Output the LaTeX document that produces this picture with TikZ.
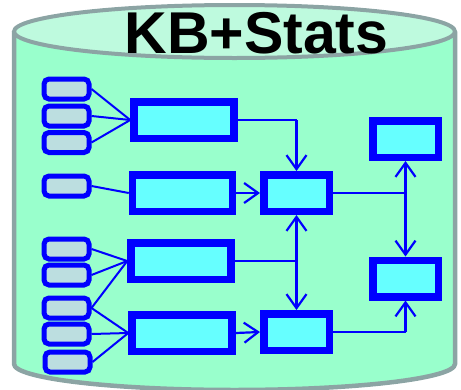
\documentclass[tikz,border=0pt]{standalone}
\usepackage{fontspec}
\setmainfont{Liberation Sans}
\usetikzlibrary{arrows.meta}
\definecolor{cylline}{RGB}{140,164,164}
\definecolor{cyltop}{RGB}{190,250,222}
\definecolor{cylbody}{RGB}{153,255,204}
\definecolor{boxblue}{RGB}{0,0,255}
\definecolor{boxcyan}{RGB}{102,255,255}
\definecolor{keygray}{RGB}{188,222,224}
\tikzset{
  keybox/.style={draw=boxblue, fill=keygray, line width=5pt, rounded corners=5pt,
    minimum width=45pt, minimum height=20pt, inner sep=0pt},
  widebox/.style={draw=boxblue, fill=boxcyan, line width=7.5pt,
    minimum width=100pt, minimum height=36.5pt, inner sep=0pt},
  smallbox/.style={draw=boxblue, fill=boxcyan, line width=7.5pt,
    minimum width=65.5pt, minimum height=36.5pt, inner sep=0pt},
  feed/.style={draw=boxblue, line width=2pt},
  flow/.style={draw=boxblue, line width=2.2pt},
  flowarrow/.style={flow, -{Straight Barb[length=14pt,width=20pt,line width=2.2pt]}},
}
\begin{document}
\begin{tikzpicture}[x=1pt,y=-1pt]
\useasboundingbox (0,0) rectangle (461,389);
% cylinder body and lids
\fill[cylbody] (14,31.5) -- (14,364) arc[start angle=180, end angle=360, x radius=220.5pt, y radius=26pt] -- (455,31.5) -- cycle;
\draw[cylline, line width=4.5pt] (14,31.5) -- (14,364) arc[start angle=180, end angle=360, x radius=220.5pt, y radius=26pt] -- (455,31.5);
\draw[cylline, fill=cyltop, line width=4pt] (234.5,31.5) ellipse[x radius=220.5pt, y radius=26.5pt];
\node[anchor=base, inner sep=0pt, font=\fontsize{59}{59}\selectfont\bfseries] (title) at (256.5,53) {KB+Stats};

% input keys
\node[keybox] (k1) at (66.5,89) {};
\node[keybox] (k2) at (66.5,116) {};
\node[keybox] (k3) at (66.5,142.5) {};
\node[keybox] (k4) at (66.5,186) {};
\node[keybox] (k5) at (66.5,249) {};
\node[keybox] (k6) at (66.5,275) {};
\node[keybox] (k7) at (66.5,308) {};
\node[keybox] (k8) at (66.5,334) {};
\node[keybox] (k9) at (67.5,362) {};

% processing boxes
\node[widebox] (m1) at (184,120) {};
\node[widebox] (m2) at (182.5,193) {};
\node[widebox] (m3) at (181,261) {};
\node[widebox] (m4) at (182,333) {};
\node[smallbox] (c1) at (296.5,193) {};
\node[smallbox] (c2) at (296.5,332) {};
\node[smallbox] (r1) at (405.5,139) {};
\node[smallbox] (r2) at (405.5,278.5) {};

\coordinate (j1) at (c1.north |- m1.east);
\coordinate (j2) at (c1.south |- m3.east);
\coordinate (j3) at (r1.south |- c1.east);
\coordinate (j4) at (r2.south |- c2.east);

% key to box feeds
\draw[feed] (k1.east) -- (m1.west);
\draw[feed] (k2.east) -- (m1.west);
\draw[feed] (k3.east) -- (m1.west);
\draw[feed] (k4.east) -- (m2.west);
\draw[feed] (k5.east) -- (m3.west);
\draw[feed] (k6.east) -- (m3.west);
\draw[feed] (k7.east) -- (m3.west);
\draw[feed] (k7.east) -- (m4.west);
\draw[feed] (k8.east) -- (m4.west);
\draw[feed] (k9.east) -- (m4.west);

% data flow
\draw[flow] (m1.east) -- (j1);
\draw[flowarrow] (j1) -- (c1.north);
\draw[flowarrow] (m2.east) -- (c1.west);
\draw[flow] (m3.east) -- (j2);
\draw[flowarrow] (j2) -- (c1.south);
\draw[flowarrow] (j2) -- (c2.north);
\draw[flowarrow] (m4.east) -- (c2.west);
\draw[flow] (c1.east) -- (j3);
\draw[flowarrow] (j3) -- (r1.south);
\draw[flowarrow] (j3) -- (r2.north);
\draw[flow] (c2.east) -- (j4);
\draw[flowarrow] (j4) -- (r2.south);
\end{tikzpicture}
\end{document}
